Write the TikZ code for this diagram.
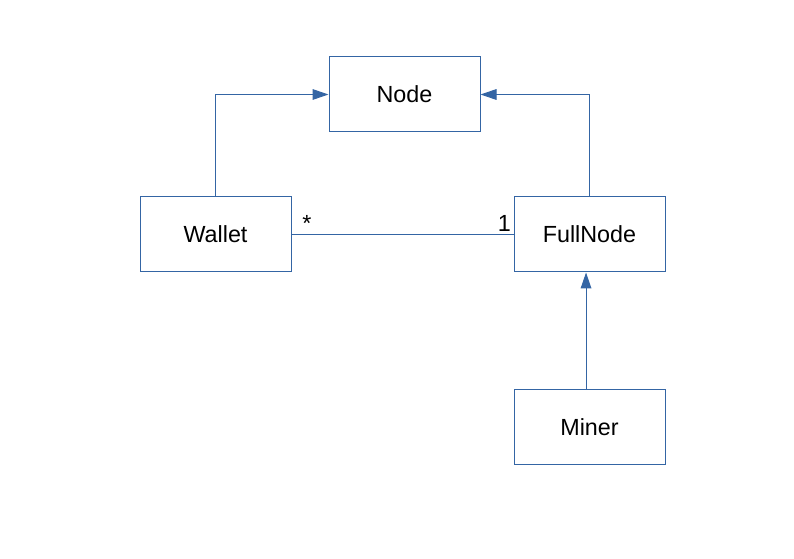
\documentclass[tikz,border=0pt]{standalone}
\usepackage{fontspec}
\setmainfont{Liberation Sans}
\usetikzlibrary{arrows.meta}
\definecolor{umlblue}{HTML}{3465A4}
\begin{document}
\begin{tikzpicture}[x=0.75pt,y=-0.75pt,font=\fontsize{17.5}{21}\selectfont,
  box/.style={draw=umlblue,line width=0.75pt,minimum width=113.25pt,minimum height=56.25pt,inner sep=0pt},
  arr/.style={draw=umlblue,line width=0.75pt,-{Triangle[length=12pt,width=8pt]}},
  assoc/.style={draw=umlblue,line width=0.75pt},
  mult/.style={inner sep=0pt}]
\useasboundingbox (0,0) rectangle (794,559);
% classes
\node[box] (node) at (404.5,94.5) {Node};
\node[box] (wallet) at (215.5,234.5) {Wallet};
\node[box] (fullnode) at (589.5,234.5) {FullNode};
\node[box] (miner) at (589.5,427.5) {Miner};
% generalisations
\draw[arr] (wallet.north) |- (node.west);
\draw[arr] (fullnode.north) |- (node.east);
\draw[arr] ([xshift=-2.6pt]miner.north) -- ([xshift=-2.6pt]miner.north |- fullnode.south);
% association
\draw[assoc] (wallet.east) -- (fullnode.west);
\node[mult,anchor=base west] (mw) at (302,232) {*};
\node[mult,anchor=base east] (mf) at (511,232) {1};
\end{tikzpicture}
\end{document}
